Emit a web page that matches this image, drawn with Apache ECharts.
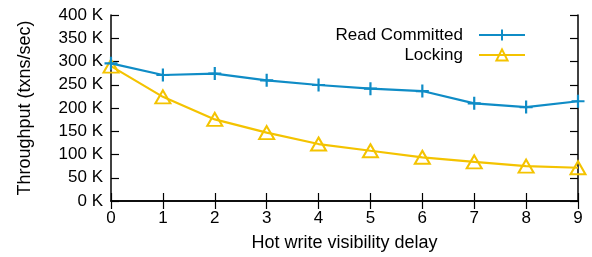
<!DOCTYPE html>
<html>
<head>
<meta charset="utf-8">
<script src="https://cdn.jsdelivr.net/npm/echarts@6/dist/echarts.min.js"></script>
<style>
  html, body { margin: 0; padding: 0; background: #fff; }
  #chart { width: 592px; height: 257px; }
</style>
</head>
<body>
<div id="chart"></div>
<script>
// hot write visibility delay
const delays = ['0', '1', '2', '3', '4', '5', '6', '7', '8', '9']
// throughput, txns/sec
const readCommitted = [296000, 271000, 274000, 259500, 249500, 241500, 236500, 210000, 202000, 214500]
const locking = [290000, 224000, 175500, 147000, 122500, 108000, 94000, 84000, 75000, 71500]

const FONT = 'Liberation Sans, Arial, sans-serif'
const BLUE = '#0f8cc6'
const YELLOW = '#f4c300'

const chart = echarts.init(document.getElementById('chart'), null, { renderer: 'canvas' })

const mirrorTick = { show: true, inside: true, length: 8, lineStyle: { color: '#000', width: 1.2 } }

chart.setOption({
  animation: false,
  textStyle: { fontFamily: FONT },
  grid: { left: 111, right: 14, top: 15, bottom: 56, containLabel: false },
  legend: {
    right: 61,
    top: 21,
    orient: 'vertical',
    align: 'right',
    itemWidth: 46,
    itemHeight: 14,
    itemGap: 2,
    textStyle: { fontFamily: FONT, fontSize: 17, lineHeight: 16, color: '#000', padding: [2, 11, 0, 0] },
    data: ['Read Committed', 'Locking']
  },
  xAxis: [
    {
      type: 'category',
      data: delays,
      boundaryGap: false,
      name: 'Hot write visibility delay',
      nameLocation: 'middle',
      nameGap: 33,
      nameTextStyle: { fontFamily: FONT, fontSize: 18, color: '#000' },
      axisLine: { show: true, lineStyle: { color: '#000', width: 1.5 } },
      axisTick: { show: true, inside: true, length: 8, alignWithLabel: true, lineStyle: { color: '#000', width: 1.2 } },
      axisLabel: { fontFamily: FONT, fontSize: 17, color: '#000', margin: 9 },
      splitLine: { show: false }
    },
    {
      type: 'category',
      data: delays,
      boundaryGap: false,
      position: 'top',
      axisLine: { show: true, lineStyle: { color: '#000', width: 1.5 } },
      axisTick: mirrorTick,
      axisLabel: { show: false },
      splitLine: { show: false }
    }
  ],
  yAxis: [
    {
      type: 'value',
      min: 0,
      max: 400000,
      interval: 50000,
      name: 'Throughput (txns/sec)',
      nameLocation: 'middle',
      nameGap: 77,
      nameTextStyle: { fontFamily: FONT, fontSize: 18, color: '#000' },
      axisLine: { show: true, lineStyle: { color: '#000', width: 1.5 } },
      axisTick: { show: true, inside: true, length: 8, lineStyle: { color: '#000', width: 1.2 } },
      axisLabel: {
        fontFamily: FONT, fontSize: 17, color: '#000', margin: 8,
        formatter: v => (v / 1000) + ' K'
      },
      splitLine: { show: false }
    },
    {
      type: 'value',
      min: 0,
      max: 400000,
      interval: 50000,
      position: 'right',
      axisLine: { show: true, lineStyle: { color: '#000', width: 1.5 } },
      axisTick: mirrorTick,
      axisLabel: { show: false },
      splitLine: { show: false }
    }
  ],
  series: [
    {
      name: 'Read Committed',
      type: 'line',
      data: readCommitted,
      symbol: 'path://M0,5L10,5M5,0L5,10',
      symbolSize: 13,
      lineStyle: { color: BLUE, width: 2.2 },
      itemStyle: { color: BLUE, borderColor: BLUE, borderWidth: 2.2 },
      z: 3
    },
    {
      name: 'Locking',
      type: 'line',
      data: locking,
      symbol: 'triangle',
      symbolSize: [15, 13],
      lineStyle: { color: YELLOW, width: 2.2 },
      itemStyle: { color: 'rgba(255,255,255,0)', borderColor: YELLOW, borderWidth: 2 },
      z: 2
    }
  ]
})
</script>
</body>
</html>
